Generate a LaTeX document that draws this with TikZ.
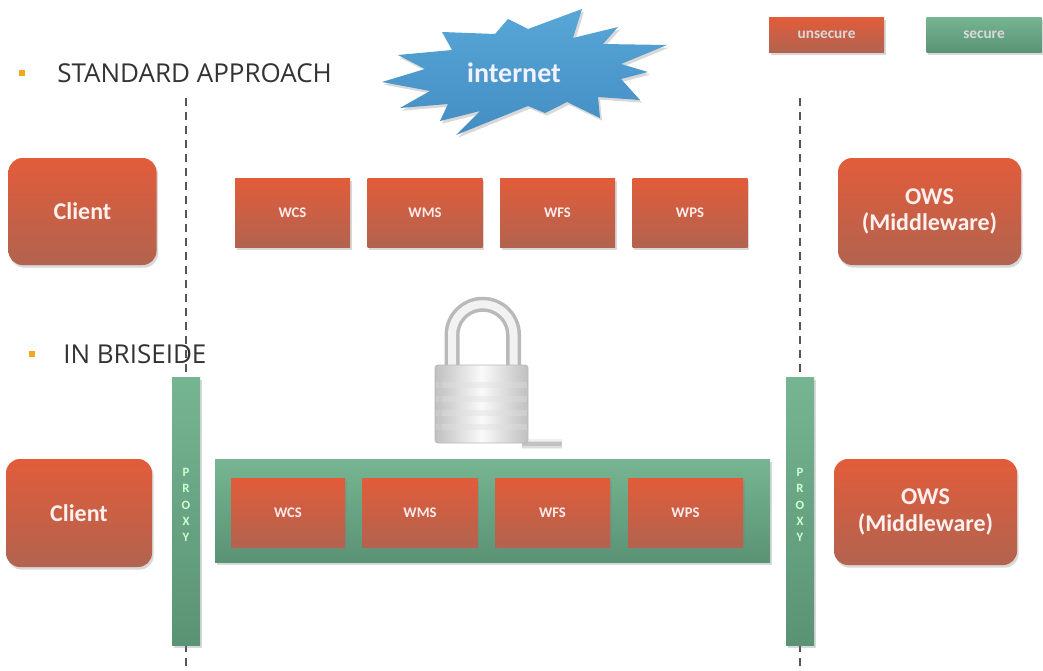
\documentclass[tikz,border=0pt]{standalone}
\usepackage{fontspec}
\setmainfont{Carlito}
\newfontfamily\headfont{Open Sans}
\usetikzlibrary{shadows}
\newdimen\px \px=0.75pt
\definecolor{redtop}{HTML}{E25C3A}
\definecolor{redbot}{HTML}{B2634F}
\definecolor{greentop}{HTML}{76B592}
\definecolor{greenbot}{HTML}{5A9374}
\definecolor{skytop}{HTML}{58A6D8}
\definecolor{skybot}{HTML}{438DC2}
\definecolor{headtext}{HTML}{333333}
\definecolor{bulletc}{HTML}{F2A81D}
\definecolor{dashc}{HTML}{555555}
\tikzset{
  shade box/.style={drop shadow={shadow xshift=1.2pt, shadow yshift=-2pt, opacity=0.3}},
  redfill/.style={top color=redtop, bottom color=redbot},
  greenfill/.style={top color=greentop, bottom color=greenbot},
  service/.style={redfill, shade box, text=white!92!red, inner sep=0pt,
    minimum width=115\px, minimum height=69\px,
    font=\bfseries\fontsize{11}{12}\selectfont},
  endpoint/.style={redfill, shade box, rounded corners=14\px, text=white!94!red,
    inner sep=0pt, minimum width=148\px, minimum height=107\px, align=center,
    font=\bfseries\fontsize{18}{20}\selectfont},
  proxybar/.style={greenfill, shade box, inner sep=0pt,
    minimum width=28\px, minimum height=268\px},
  proxytext/.style={text=white!82!green, align=center, inner sep=0pt,
    font=\bfseries\fontsize{9.5}{12.3}\selectfont},
  legendbox/.style={shade box, inner sep=0pt, minimum width=115\px,
    minimum height=35\px, text=white!85!black, font=\bfseries\fontsize{11.5}{13}\selectfont},
  heading/.style={anchor=west, text=headtext, inner sep=0pt,
    font=\headfont\fontsize{19.5}{22}\selectfont},
  bullet/.style={fill=bulletc, minimum size=6\px, inner sep=0pt},
  fence/.style={draw=dashc, line width=1.5\px, dash pattern=on 8\px off 6\px},
}
\begin{document}
\begin{tikzpicture}[x=0.75pt,y=-0.75pt]
\useasboundingbox (0,0) rectangle (1043,671);
\fill[white] (0,0) rectangle (1043,671);

% boundary fences between client, network and middleware
\coordinate (fenceLtop) at (186,98);
\coordinate (fenceLbot) at (186,671);
\coordinate (fenceRtop) at (800,98);
\coordinate (fenceRbot) at (800,671);
\draw[fence] (fenceLtop) -- (fenceLbot);
\draw[fence] (fenceRtop) -- (fenceRbot);

% headings
\node[bullet] (b1) at (22,73) {};
\node[heading] (h1) at (57,73) {STANDARD APPROACH};
\node[bullet] (b2) at (32,354) {};
\node[heading] (h2) at (63,354) {IN BRISEIDE};

% internet cloud
\path[top color=skytop, bottom color=skybot,
      drop shadow={shadow xshift=1.5pt, shadow yshift=-2pt, opacity=0.3}]
  (382,82) -- (425,69) -- (398,55) -- (452,50) -- (442,32) -- (495,34)
  -- (508,19) -- (528,29) -- (582,9) -- (573,38) -- (618,27) -- (603,44)
  -- (667,45) -- (621,64) -- (648,72) -- (621,79) -- (640,100) -- (598,97)
  -- (600,118) -- (567,102) -- (545,113) -- (528,106) -- (456,135)
  -- (480,111) -- (440,121) -- (448,104) -- (400,108) -- (430,91) -- cycle;
\node[text=white!95!blue, font=\bfseries\fontsize{21}{24}\selectfont] (net) at (514,73) {internet};

% legend
\node[legendbox, redfill] (unsec) at (826.5,34.5) {unsecure};
\node[legendbox, greenfill] (sec) at (984,34.5) {secure};

% standard approach row
\node[endpoint] (clientA) at (82.5,211.5) {Client};
\node[service] (wcsA) at (292.5,212.5) {WCS};
\node[service] (wmsA) at (425,212.5) {WMS};
\node[service] (wfsA) at (557.5,212.5) {WFS};
\node[service] (wpsA) at (690,212.5) {WPS};
\node[endpoint, minimum width=183\px] (owsA) at (929.5,211.5) {OWS\\(Middleware)};

% padlock: soft floor shadow, shackle, striped body
\foreach \op/\w in {0.06/5, 0.08/3.5, 0.12/2}
  \fill[black, opacity=\op] (522,444-\w) rectangle (562,444+\w);
\draw[line width=15\px, gray!55, line cap=butt]
  (452,368) -- (452,335) arc[start angle=180, end angle=360, radius=30.75] -- (513.5,368);
\draw[line width=8\px, gray!10]
  (452,368) -- (452,335) arc[start angle=180, end angle=360, radius=30.75] -- (513.5,368);
\path[left color=gray!50, right color=gray!50, middle color=gray!4, rounded corners=3\px]
  (435,365) rectangle (528,443);
\foreach \yy in {382,396,410,424}
  \fill[gray!25, opacity=0.4] (436,\yy) rectangle (527,\yy+6);
\fill[gray!45, opacity=0.5] (437,366) rectangle (442,442);
\draw[gray!55, line width=0.6pt, rounded corners=3\px] (435,365) rectangle (528,443);

% BRISEIDE row
\node[proxybar] (proxyL) at (186,511) {};
\node[proxytext] (proxyLtext) at (186,505) {P\\R\\O\\X\\Y};
\node[proxybar] (proxyR) at (800,511) {};
\node[proxytext] (proxyRtext) at (800,505) {P\\R\\O\\X\\Y};
\node[greenfill, shade box, minimum width=555\px, minimum height=103\px, inner sep=0pt]
  (secure) at (492.5,510.5) {};
\node[endpoint, minimum width=146\px, minimum height=108\px] (clientB) at (79,513) {Client};
\node[service, minimum width=114\px] (wcsB) at (288,512.5) {WCS};
\node[service] (wmsB) at (420,512.5) {WMS};
\node[service] (wfsB) at (552.5,512.5) {WFS};
\node[service] (wpsB) at (685.5,512.5) {WPS};
\node[endpoint, minimum width=183\px, minimum height=106\px] (owsB) at (925.5,512) {OWS\\(Middleware)};
\end{tikzpicture}
\end{document}
